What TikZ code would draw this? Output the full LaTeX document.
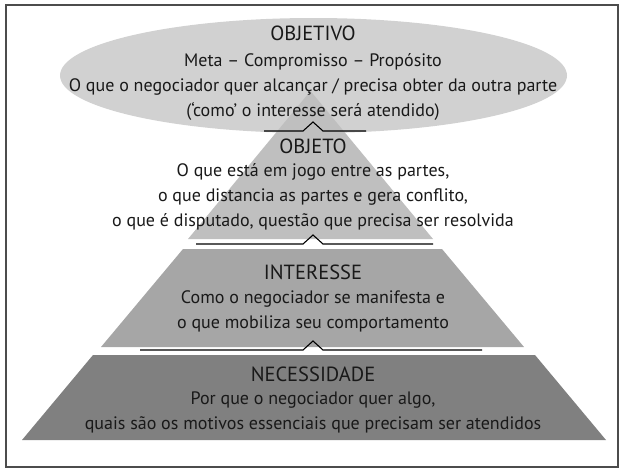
\documentclass[tikz,border=0pt]{standalone}
\usepackage{fontspec}
\setmainfont{PT Sans}
\usetikzlibrary{positioning}
\definecolor{gObjetivo}{gray}{0.82}
\definecolor{gObjeto}{gray}{0.75}
\definecolor{gInteresse}{gray}{0.65}
\definecolor{gNecessidade}{gray}{0.50}
\definecolor{gText}{gray}{0.10}

\begin{document}
\begin{tikzpicture}[x=1pt, y=-1pt,
    title/.style={font=\fontsize{20.5}{22}\selectfont, text=gText},
    body/.style={font=\fontsize{18}{25}\selectfont, text=gText, align=center},
    sepline/.style={line width=1.1pt, black}
]
\useasboundingbox (0,0) rectangle (624,474);

% Frame
\draw[line width=1.2pt, black!70] (6,5) rectangle (618,467);

% Levels
\fill[gObjetivo] (313.5,75.5) ellipse (253.5 and 57.5);
\fill[gObjeto] (310.5,91) -- (433,239) -- (188,239) -- cycle;
\fill[gInteresse] (183,249) -- (442,249) -- (524,347) -- (101,347) -- cycle;
\fill[gNecessidade] (93,355) -- (535,355) -- (606,440) -- (22,440) -- cycle;

% Separators
\foreach \y/\xa/\xb in {131/264/366, 244/196/433, 350/140/482} {
  \draw[sepline] (\xa,\y) -- (303,\y) -- (313,\y-9) -- (323,\y) -- (\xb,\y);
}

% Texts
\node[title] (objetivo) at (313,33) {OBJETIVO};
\node[body] (objetivoTxt) at (313,87) {Meta -- Compromisso -- Propósito\\
  O que o negociador quer alcançar / precisa obter da outra parte\\
  (‘como’ o interesse será atendido)};

\node[title] (objeto) at (313,146) {OBJETO};
\node[body] (objetoTxt) at (313,197) {O que está em jogo entre as partes,\\
  o que distancia as partes e gera conflito,\\
  o que é disputado, questão que precisa ser resolvida};

\node[title] (interesse) at (313,272) {INTERESSE};
\node[body] (interesseTxt) at (313,311) {Como o negociador se manifesta e\\
  o que mobiliza seu comportamento};

\node[title] (necessidade) at (313,374) {NECESSIDADE};
\node[body] (necessidadeTxt) at (313,412) {Por que o negociador quer algo,\\
  quais são os motivos essenciais que precisam ser atendidos};

\end{tikzpicture}
\end{document}
